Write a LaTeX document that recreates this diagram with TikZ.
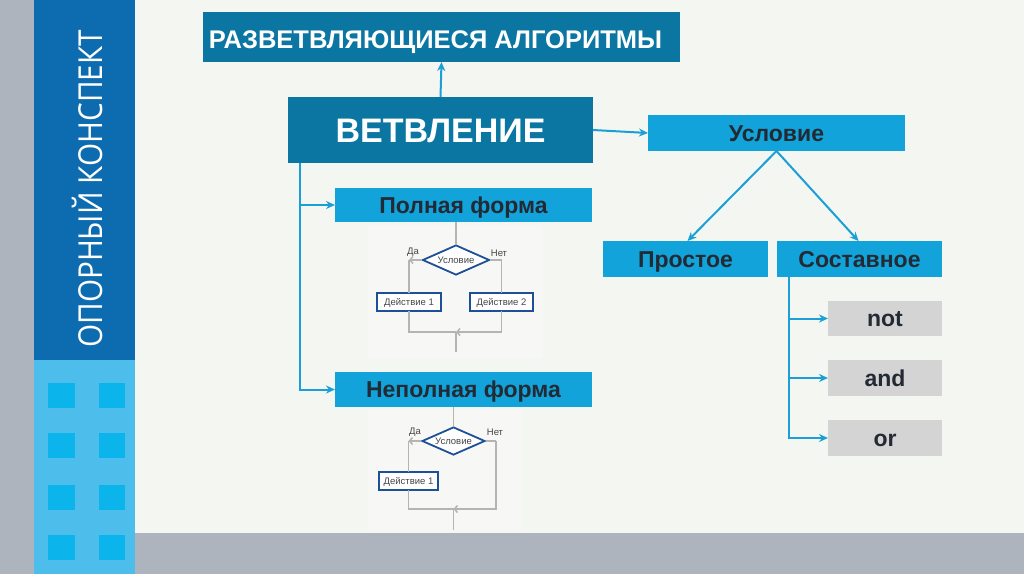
\documentclass[tikz,border=0pt]{standalone}
\usepackage{fontspec}
\setmainfont{Liberation Sans}
\newfontfamily\sidefont{Open Sans}
\usetikzlibrary{arrows.meta,shapes.geometric}
\definecolor{bgc}{RGB}{244,246,242}
\definecolor{grayc}{RGB}{173,180,190}
\definecolor{darkblue}{RGB}{13,108,176}
\definecolor{lightblue}{RGB}{77,190,236}
\definecolor{sqc}{RGB}{11,180,234}
\definecolor{tealc}{RGB}{11,118,162}
\definecolor{cyanc}{RGB}{17,163,217}
\definecolor{connc}{RGB}{26,160,214}
\definecolor{boxgray}{RGB}{212,212,212}
\definecolor{txtdark}{RGB}{35,42,52}
\definecolor{fcblue}{RGB}{30,80,150}
\definecolor{fcline}{RGB}{180,180,180}
\definecolor{fctext}{RGB}{70,70,70}
\begin{document}
\begin{tikzpicture}[x=1pt,y=-1pt,
  box/.style={inner sep=0pt,outer sep=0pt,align=center},
  tealbox/.style={box,fill=tealc,text=white},
  cyanbox/.style={box,fill=cyanc,text=txtdark,font=\fontsize{23}{23}\selectfont\bfseries,text height=16.5pt,text depth=0pt},
  graybox/.style={box,fill=boxgray,text=txtdark,font=\fontsize{23}{23}\selectfont\bfseries,minimum width=114pt,minimum height=36pt,text height=16.5pt,text depth=0pt},
  conn/.style={draw=connc,line width=2pt,-{Stealth[length=9pt,width=8pt]}},
  gline/.style={draw=fcline,line width=1.5pt},
  garrow/.style={gline,-{Straight Barb[length=3pt,width=7pt]}},
  cond/.style={diamond,draw=fcblue,line width=1.8pt,fill=white,inner sep=0pt,aspect=2.2,text=fctext,font=\fontsize{9.5}{10}\selectfont},
  act/.style={box,draw=fcblue,line width=1.8pt,fill=white,text=fctext,font=\fontsize{9.5}{10}\selectfont,minimum height=18pt,text height=6.8pt,text depth=0pt},
  yn/.style={inner sep=0pt,text=fctext,font=\fontsize{9.5}{10}\selectfont}]
\useasboundingbox (0,0) rectangle (1024,574);
% background
\fill[bgc] (0,0) rectangle (1024,574);
\fill[grayc] (0,0) rectangle (34,574);
\fill[grayc] (135,533) rectangle (1024,574);
\fill[darkblue] (34,0) rectangle (135,360);
\fill[lightblue] (34,360) rectangle (135,574);
\foreach \y in {383,433,485,535}{
  \fill[sqc] (48,\y) rectangle (75,\y+25);
  \fill[sqc] (99,\y) rectangle (125,\y+25);
}
\node[rotate=90,text=white,inner sep=0pt,font=\sidefont\fontsize{33}{33}\selectfont] (side) at (87,189) {\scalebox{0.9}[1]{ОПОРНЫЙ КОНСПЕКТ}};
% faint panels
\fill[white,opacity=0.3] (368,225) rectangle (542,358);
\fill[white,opacity=0.3] (368,410) rectangle (522,530);
% main boxes
\node[tealbox,minimum width=477pt,minimum height=50pt] (title) at (441.5,37) {};
\node[inner sep=0pt,text=white,font=\fontsize{25.5}{25.5}\selectfont\bfseries,text height=18.3pt,text depth=0pt] (titletxt) at (435.5,39) {РАЗВЕТВЛЯЮЩИЕСЯ АЛГОРИТМЫ};
\node[tealbox,minimum width=305pt,minimum height=66pt,font=\fontsize{34}{34}\selectfont\bfseries,text height=24.4pt,text depth=0pt] (vetv) at (440.5,130) {ВЕТВЛЕНИЕ};
\node[cyanbox,minimum width=257pt,minimum height=36pt] (usl) at (776.5,133) {Условие};
\node[cyanbox,minimum width=165pt,minimum height=36pt] (prost) at (685.5,259) {Простое};
\node[cyanbox,minimum width=165pt,minimum height=36pt] (sost) at (859.5,259) {Составное};
\node[graybox,minimum height=35pt] (not) at (885,318.5) {not};
\node[graybox] (and) at (885,378) {and};
\node[graybox] (or) at (885,438) {or};
\node[cyanbox,minimum width=257pt,minimum height=34pt] (poln) at (463.5,205) {Полная форма};
\node[cyanbox,minimum width=257pt,minimum height=35pt] (nepoln) at (463.5,389.5) {Неполная форма};
% connectors
\draw[conn] (vetv.north) -- (title.south);
\draw[conn] (vetv.east) -- (usl.west);
\draw[conn] (usl.south) -- ([xshift=2pt]prost.north);
\draw[conn] (usl.south) -- ([xshift=-1pt]sost.north);
\coordinate (lt) at ([xshift=12pt]vetv.south west);
\draw[conn] (lt) |- (poln.west);
\draw[conn] (lt) |- (nepoln.west);
\coordinate (rt) at ([xshift=12pt]sost.south west);
\draw[conn] (rt) |- (not.west);
\draw[conn] (rt) |- (and.west);
\draw[conn] (rt) |- (or.west);
% flowchart 1 (full form)
\node[cond,minimum width=67pt,minimum height=30pt] (d1) at (456,260) {Условие};
\node[act,minimum width=64pt] (a1) at (409,302) {Действие 1};
\node[act,minimum width=63pt] (a2) at (501.5,302) {Действие 2};
\node[yn] (da1) at (413,252) {Да};
\node[yn] (net1) at (499,253) {Нет};
\coordinate (m1) at (456,332);
\coordinate (e1) at (456,352);
\draw[gline] (d1.north |- poln.south) -- (d1.north);
\draw[garrow] (d1.west) -- (a1.north |- d1.west);
\draw[gline] (a1.north |- d1.west) -- (a1.north);
\draw[gline] (d1.east) -| (a2.north);
\draw[gline] (a1.south) |- (m1);
\draw[garrow] (a2.south) |- (m1);
\draw[gline] (m1) -- (e1);
% flowchart 2 (short form)
\node[cond,minimum width=63pt,minimum height=28pt] (d2) at (453.5,441) {Условие};
\node[act,minimum width=59pt] (a3) at (408.5,481) {Действие 1};
\node[yn] (da2) at (415,432) {Да};
\node[yn] (net2) at (495,432) {Нет};
\coordinate (r2) at (496,441);
\coordinate (m2) at (453.5,509);
\coordinate (e2) at (453.5,530);
\draw[gline] (d2.north |- nepoln.south) -- (d2.north);
\draw[garrow] (d2.west) -- (a3.north |- d2.west);
\draw[gline] (a3.north |- d2.west) -- (a3.north);
\draw[gline] (a3.south) |- (m2);
\draw[gline] (d2.east) -- (r2);
\draw[garrow] (r2) |- (m2);
\draw[gline] (m2) -- (e2);
\end{tikzpicture}
\end{document}
